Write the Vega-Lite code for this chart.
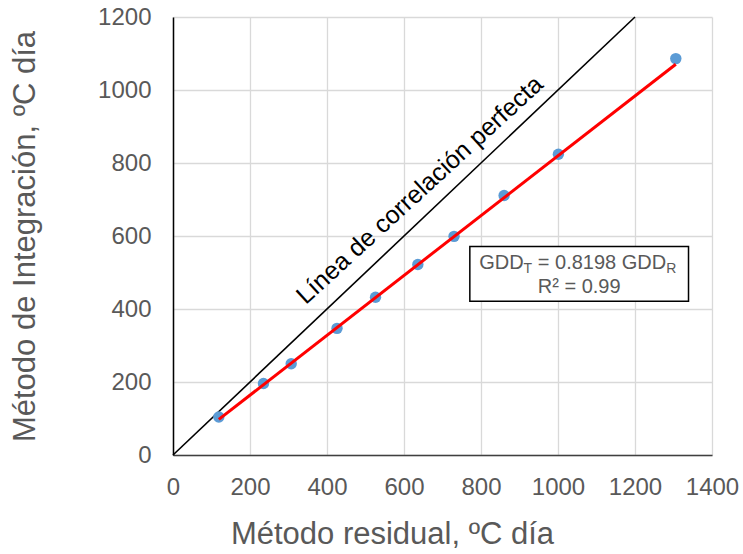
{
  "$schema": "https://vega.github.io/schema/vega-lite/v6.json",
  "width": 539,
  "height": 438,
  "autosize": {"type": "none"},
  "padding": {"left": 173, "top": 17, "right": 31, "bottom": 99},
  "background": "white",
  "config": {"view": {"stroke": null}, "font": "Liberation Sans"},
  "datasets": {
    "points": [
      {"x": 119, "y": 104},
      {"x": 235, "y": 196},
      {"x": 307, "y": 250},
      {"x": 426, "y": 347},
      {"x": 526, "y": 432},
      {"x": 636, "y": 522},
      {"x": 730, "y": 599},
      {"x": 860, "y": 711},
      {"x": 1001, "y": 824},
      {"x": 1306, "y": 1086}
    ],
    "perfect": [{"x": 0, "y": 0}, {"x": 1200, "y": 1200}],
    "fit": [{"x": 119, "y": 97.6}, {"x": 1306, "y": 1070.7}],
    "box": [{"x": 771, "xe": 1339, "y": 421, "ye": 571}],
    "label": [{"x": 655, "y": 710, "text": "Línea de correlación perfecta"}],
    "eq": [{"x": 1055, "y": 529}]
  },
  "layer": [
    {
      "data": {"name": "perfect"},
      "mark": {"type": "line", "color": "#000000", "strokeWidth": 1.6},
      "encoding": {
        "x": {
          "field": "x", "type": "quantitative",
          "scale": {"domain": [0, 1400], "nice": false, "zero": false},
          "axis": {
            "values": [0, 200, 400, 600, 800, 1000, 1200, 1400], "format": "d",
            "grid": true, "gridColor": "#d9d9d9", "gridWidth": 1.3,
            "ticks": false, "domainColor": "#404040", "domainWidth": 1.5,
            "labelFontSize": 24, "labelColor": "#595959", "labelPadding": 20, "labelFlush": false,
            "title": "Método residual, ºC día", "titleFontSize": 31, "titleColor": "#595959",
            "titleFontWeight": "normal", "titleX": 219, "titleY": 88,
            "titleBaseline": "alphabetic", "titleAlign": "center"
          }
        },
        "y": {
          "field": "y", "type": "quantitative",
          "scale": {"domain": [0, 1200], "nice": false, "zero": false},
          "axis": {
            "values": [0, 200, 400, 600, 800, 1000, 1200], "format": "d",
            "grid": true, "gridColor": "#d9d9d9", "gridWidth": 1.3,
            "ticks": false, "domainColor": "#000000", "domainWidth": 1.5,
            "labelFontSize": 24, "labelColor": "#595959", "labelPadding": 22, "labelFlush": false,
            "title": "Método de Integración, ºC día", "titleFontSize": 31, "titleColor": "#595959",
            "titleFontWeight": "normal", "titleX": -148, "titleY": 219, "titleAngle": -90,
            "titleBaseline": "middle", "titleAlign": "center"
          }
        }
      }
    },
    {
      "data": {"name": "points"},
      "mark": {"type": "circle", "color": "#5B9BD5", "opacity": 1, "size": 130},
      "encoding": {
        "x": {"field": "x", "type": "quantitative"},
        "y": {"field": "y", "type": "quantitative"}
      }
    },
    {
      "data": {"name": "fit"},
      "mark": {"type": "line", "color": "#ff0000", "strokeWidth": 3},
      "encoding": {
        "x": {"field": "x", "type": "quantitative"},
        "y": {"field": "y", "type": "quantitative"}
      }
    },
    {
      "data": {"name": "label"},
      "mark": {"type": "text", "fontSize": 25, "color": "#000000", "angle": -42.5, "align": "center", "baseline": "alphabetic"},
      "encoding": {
        "x": {"field": "x", "type": "quantitative"},
        "y": {"field": "y", "type": "quantitative"},
        "text": {"field": "text"}
      }
    },
    {
      "data": {"name": "box"},
      "mark": {"type": "rect", "fill": "#ffffff", "stroke": "#000000", "strokeWidth": 1.5},
      "encoding": {
        "x": {"field": "x", "type": "quantitative"},
        "x2": {"field": "xe"},
        "y": {"field": "y", "type": "quantitative"},
        "y2": {"field": "ye"}
      }
    },
    {
      "data": {"name": "eq"},
      "mark": {"type": "text", "text": "GDD", "fontSize": 20, "color": "#595959", "align": "left", "baseline": "alphabetic", "dx": -100, "dy": 7},
      "encoding": {"x": {"field": "x", "type": "quantitative"}, "y": {"field": "y", "type": "quantitative"}}
    },
    {
      "data": {"name": "eq"},
      "mark": {"type": "text", "text": "T", "fontSize": 14, "color": "#595959", "align": "left", "baseline": "alphabetic", "dx": -55.6, "dy": 11},
      "encoding": {"x": {"field": "x", "type": "quantitative"}, "y": {"field": "y", "type": "quantitative"}}
    },
    {
      "data": {"name": "eq"},
      "mark": {"type": "text", "text": "= 0.8198 GDD", "fontSize": 20, "color": "#595959", "align": "left", "baseline": "alphabetic", "dx": -41.4, "dy": 7},
      "encoding": {"x": {"field": "x", "type": "quantitative"}, "y": {"field": "y", "type": "quantitative"}}
    },
    {
      "data": {"name": "eq"},
      "mark": {"type": "text", "text": "R", "fontSize": 14, "color": "#595959", "align": "left", "baseline": "alphabetic", "dx": 87, "dy": 11},
      "encoding": {"x": {"field": "x", "type": "quantitative"}, "y": {"field": "y", "type": "quantitative"}}
    },
    {
      "data": {"name": "eq"},
      "mark": {"type": "text", "text": "R² = 0.99", "fontSize": 20, "color": "#595959", "align": "center", "baseline": "alphabetic", "dx": 0, "dy": 31},
      "encoding": {"x": {"field": "x", "type": "quantitative"}, "y": {"field": "y", "type": "quantitative"}}
    }
  ]
}
